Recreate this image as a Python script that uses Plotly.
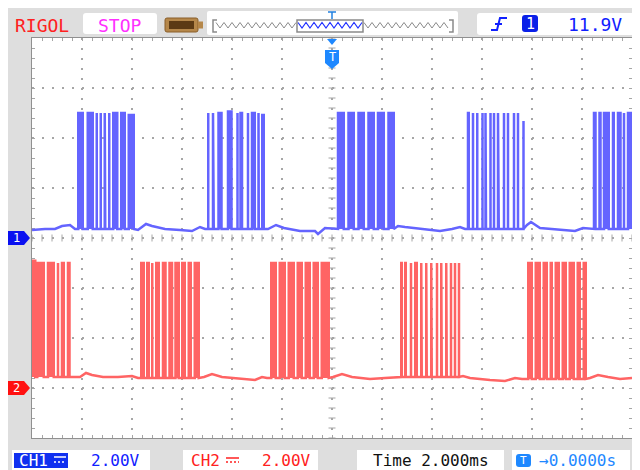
import numpy as np
import plotly.graph_objects as go

OFF = 8                      # page offset of the figure (body margin)
W, H = 640 - OFF, 470 - OFF  # figure size
PL, PT, PR, PB = 32, 38, 632, 438  # plot area in page px

# ---------------- data ----------------
time_per_div_ms = 2.0
volts_per_div = 2.0
ch1_offset_div = 0.0
ch2_offset_div = -3.0
trigger_level = "11.9V"
ch1_scale_label = "2.00V"
ch2_scale_label = "2.00V"
timebase_label = "Time 2.000ms"
trig_offset_label = "\u21920.0000s"

# baseline (low level) samples, time in ms, volts
ch1_base_t = [-12.0, -11.48, -11.08, -10.8, -10.48, -10.28,
              -7.76, -7.44, -7.2, -6.68, -6.08, -5.6, -5.28, -5.08,
              -2.56, -2.24, -1.92, -1.28, -0.68, -0.56, -0.28, 0.08,
              2.64, 2.92, 3.52, 4.32, 4.8, 5.12, 5.32,
              7.8, 7.96, 8.32, 9.12, 9.72, 10.04, 10.32]
ch1_base_v = [0.32, 0.36, 0.36, 0.48, 0.52, 0.36,
              0.32, 0.56, 0.48, 0.36, 0.32, 0.28, 0.44, 0.36,
              0.36, 0.52, 0.40, 0.28, 0.28, 0.16, 0.40, 0.36,
              0.48, 0.44, 0.36, 0.28, 0.36, 0.44, 0.36,
              0.52, 0.64, 0.40, 0.32, 0.28, 0.40, 0.36]

# pulses: rising edge, falling edge (ms) and high level (V)
ch1_rise = [-10.15, -9.77, -9.41, -9.25, -9.09, -8.91, -8.75, -8.43, -8.13,
            -4.95, -4.76, -4.54, -4.16, -3.78, -3.66, -3.36, -3.20, -2.94, -2.79,
            0.24, 0.66, 1.06, 1.46, 1.84, 2.26,
            5.44, 5.64, 5.81, 6.02, 6.14, 6.34, 6.48, 6.64, 6.88, 7.04, 7.28, 7.44, 7.66,
            10.48, 10.70, 10.88, 11.24, 11.44, 11.68, 11.84]
ch1_fall = [-9.97, -9.57, -9.41, -9.25, -9.07, -8.91, -8.59, -8.29, -7.93,
            -4.95, -4.73, -4.42, -4.02, -3.78, -3.60, -3.36, -3.09, -2.93, -2.73,
            0.47, 0.87, 1.27, 1.67, 2.07, 2.47,
            5.47, 5.64, 5.81, 6.02, 6.16, 6.34, 6.48, 6.67, 6.88, 7.04, 7.28, 7.44, 7.66,
            10.54, 10.74, 11.07, 11.27, 11.54, 11.68, 12.30]
ch1_high = [5.0, 5.0, 5.0, 5.0, 5.0, 5.0, 5.0, 5.0, 4.92,
            5.0, 5.0, 5.0, 5.06, 5.0, 5.0, 5.0, 5.0, 5.0, 4.92,
            5.0, 5.0, 5.0, 5.0, 5.0, 5.0,
            5.0, 5.0, 5.0, 5.0, 5.0, 5.0, 5.0, 5.0, 5.0, 5.0, 5.0, 5.0, 4.68,
            5.0, 5.0, 5.0, 5.0, 5.0, 5.0, 5.0]

ch2_base_t = [-10.4, -10.08, -9.84, -9.6, -9.16, -8.56, -8.0, -7.76,
              -5.12, -4.8, -4.4, -3.68, -3.08, -2.8, -2.6,
              0.04, 0.4, 0.8, 1.52, 2.12, 2.52,
              5.24, 5.52, 6.32, 6.92, 7.32, 7.6,
              10.32, 10.64, 11.04, 11.52, 12.0]
ch2_base_v = [0.44, 0.44, 0.60, 0.52, 0.44, 0.44, 0.48, 0.40,
              0.44, 0.56, 0.44, 0.36, 0.32, 0.44, 0.40,
              0.44, 0.56, 0.44, 0.36, 0.40, 0.44,
              0.48, 0.40, 0.32, 0.28, 0.40, 0.36,
              0.40, 0.52, 0.44, 0.36, 0.40]
ch2_rise = [-12.30, -11.79, -11.36, -10.96, -10.80, -10.56,
            -7.63, -7.39, -7.19, -7.03, -6.76, -6.50, -6.26, -5.99, -5.73, -5.49,
            -2.43, -2.09, -1.73, -1.37, -1.05, -0.73, -0.41,
            2.77, 2.93, 3.16, 3.33, 3.57, 3.77, 3.97, 4.20, 4.37, 4.57, 4.76, 4.92, 5.08,
            7.85, 8.15, 8.47, 8.75, 8.95, 9.23, 9.51, 9.83, 10.07]
ch2_fall = [-11.87, -11.53, -11.13, -10.96, -10.73, -10.50,
            -7.53, -7.33, -7.19, -6.93, -6.66, -6.40, -6.13, -5.89, -5.65, -5.33,
            -2.25, -1.89, -1.53, -1.21, -0.89, -0.57, -0.13,
            2.79, 2.95, 3.16, 3.39, 3.59, 3.79, 3.99, 4.20, 4.39, 4.59, 4.76, 4.92, 5.08,
            7.99, 8.31, 8.59, 8.79, 9.07, 9.35, 9.67, 9.91, 10.15]
ch2_high = [5.09, 5.0, 5.0, 5.0, 5.0, 5.0,
            5.0, 5.0, 5.0, 5.0, 5.0, 5.0, 5.0, 5.0, 5.0, 5.0,
            5.0, 5.0, 5.0, 5.0, 5.0, 5.0, 5.0,
            5.0, 5.0, 5.0, 5.0, 5.0, 5.0, 5.0, 5.0, 5.0, 5.0, 5.0, 5.0, 5.0,
            5.0, 5.0, 5.0, 5.0, 5.0, 5.0, 5.0, 5.0, 5.0]

CH1_COLOR = "#6464ff"
CH2_COLOR = "#ff6464"


def build(base_t, base_v, rise, fall, high, offset):
    events = [(t, 0, v) for t, v in zip(base_t, base_v)]
    events += [(r, 1, (f, h)) for r, f, h in zip(rise, fall, high)]
    events.sort(key=lambda e: e[0])
    xs, ys, fx, fy = [], [], [], []
    cur = base_v[0]
    for t, kind, val in events:
        if kind == 0:
            cur = val
            xs.append(t); ys.append(cur)
        else:
            f, h = val
            xs += [t, t, f, f]; ys += [cur, h, h, cur]
            fx += [t, t, f, f, None]; fy += [cur, h, h, cur, None]
    conv = lambda v: None if v is None else v / volts_per_div + offset
    return xs, [conv(v) for v in ys], fx, [conv(v) for v in fy]


fig = go.Figure()

# centre cross ticks
GRID = "#a6a6a6"
fig.add_trace(go.Scatter(x=[0] * 41, y=np.round(np.arange(-4, 4.001, 0.2), 3), mode="markers",
                         marker=dict(symbol="line-ew", size=5, line=dict(width=1, color=GRID)),
                         hoverinfo="skip", cliponaxis=True))
fig.add_trace(go.Scatter(x=np.round(np.arange(-12, 12.001, 0.4), 3), y=[0] * 61, mode="markers",
                         marker=dict(symbol="line-ns", size=5, line=dict(width=1, color=GRID)),
                         hoverinfo="skip", cliponaxis=True))

for args, col in [((ch2_base_t, ch2_base_v, ch2_rise, ch2_fall, ch2_high, ch2_offset_div), CH2_COLOR),
                  ((ch1_base_t, ch1_base_v, ch1_rise, ch1_fall, ch1_high, ch1_offset_div), CH1_COLOR)]:
    xs, ys, fx, fy = build(*args)
    fig.add_trace(go.Scatter(x=fx, y=fy, mode="lines", fill="toself", fillcolor=col,
                             line=dict(width=0, color=col), hoverinfo="skip", connectgaps=False))
    fig.add_trace(go.Scatter(x=xs, y=ys, mode="lines", line=dict(width=2.5, color=col),
                             hoverinfo="skip"))


def P(x, y):
    return (x - PL) / (PR - PL), (PB - y) / (PB - PT)


def path_from(pts, close=True):
    s = ""
    for i, (x, y) in enumerate(pts):
        px, py = P(x, y)
        s += ("M" if i == 0 else " L") + f" {px:.5f},{py:.5f}"
    return s + (" Z" if close else "")


def rrect_path(x0, y0, x1, y1, r):
    def p(x, y):
        a, b = P(x, y)
        return f"{a:.5f},{b:.5f}"
    return (f"M {p(x0 + r, y0)} L {p(x1 - r, y0)} Q {p(x1, y0)} {p(x1, y0 + r)} "
            f"L {p(x1, y1 - r)} Q {p(x1, y1)} {p(x1 - r, y1)} L {p(x0 + r, y1)} "
            f"Q {p(x0, y1)} {p(x0, y1 - r)} L {p(x0, y0 + r)} Q {p(x0, y0)} {p(x0 + r, y0)} Z")


shapes = []


def add_path(path, fill=None, line=None, lw=0, layer="below", dash=None):
    ln = dict(color=line if line else "rgba(0,0,0,0)", width=lw)
    if dash:
        ln["dash"] = dash
    shapes.append(dict(type="path", xref="paper", yref="paper", path=path,
                       fillcolor=fill if fill else "rgba(0,0,0,0)", line=ln, layer=layer))


# background panels
add_path(path_from([(7, 8), (641, 8), (641, 471), (7, 471)]), fill="#dedede")
add_path(path_from([(PL, PT), (PR, PT), (PR, PB), (PL, PB)]), fill="#ffffff")

# top bar boxes
add_path(rrect_path(83, 13, 157, 34, 3), fill="#ffffff")
add_path(rrect_path(207, 11, 458, 35, 2), fill="#ffffff")
add_path(rrect_path(477, 13, 637, 35, 3), fill="#ffffff")
# battery icon
add_path(rrect_path(165, 18, 198, 32, 2), fill="#b5874a", line="#8a5f2a", lw=1)
add_path(path_from([(198, 21.5), (203, 21.5), (203, 28.5), (198, 28.5)]), fill="#b5874a")
add_path(path_from([(169, 21), (194, 21), (194, 29), (169, 29)]), fill="#5c3a14")


# memory depth zigzag
def zig(x0, x1):
    pts = []
    x = x0
    k = 0
    while x <= x1:
        pts.append((x, 22.5 if k % 2 == 0 else 28))
        x += 4
        k += 1
    return pts


add_path(path_from(zig(216, 296), close=False), line="#8a8a8a", lw=1)
add_path(path_from(zig(364, 448), close=False), line="#8a8a8a", lw=1)
add_path(path_from(zig(298, 362), close=False), line="#2030ff", lw=1.2)
add_path(path_from([(297, 20), (363, 20), (363, 32), (297, 32)]), line="#8a8a8a", lw=1.5)
add_path(path_from([(217, 20), (213, 20), (213, 32), (217, 32)], close=False), line="#8a8a8a", lw=1.5)
add_path(path_from([(449, 20), (453, 20), (453, 32), (449, 32)], close=False), line="#8a8a8a", lw=1.5)
add_path(path_from([(328, 12), (336, 12)], close=False), line="#2080e0", lw=1.5)
add_path(path_from([(332, 12), (332, 19)], close=False), line="#2080e0", lw=1.5)

# trigger box symbols
add_path(path_from([(491, 30), (497, 30), (500, 18), (507, 18)], close=False), line="#1020ff", lw=2)
add_path(path_from([(495, 24), (502, 24)], close=False), line="#1020ff", lw=2)
add_path(rrect_path(522, 15, 538, 32, 3), fill="#0a20e8")

# bottom boxes
add_path(path_from([(12, 450), (150, 450), (150, 471), (12, 471)]), fill="#ffffff")
add_path(path_from([(183, 450), (318, 450), (318, 471), (183, 471)]), fill="#ffffff")
add_path(path_from([(357, 450), (504, 450), (504, 471), (357, 471)]), fill="#ffffff")
add_path(path_from([(512, 450), (630, 450), (630, 471), (512, 471)]), fill="#ffffff")
add_path(path_from([(14, 453), (68, 453), (68, 468), (14, 468)]), fill="#1030f0")
# DC coupling symbols
add_path(path_from([(54, 457), (66, 457)], close=False), line="#ffffff", lw=1.5)
add_path(path_from([(54, 462), (66, 462)], close=False), line="#ffffff", lw=1.5, dash="2px,2px")
add_path(path_from([(226, 458), (239, 458)], close=False), line="#ff2020", lw=1.5)
add_path(path_from([(226, 462), (239, 462)], close=False), line="#ff2020", lw=1.5, dash="2px,2px")
# trigger offset badge
add_path(rrect_path(516, 454, 531, 467, 3), fill="#1e88ff")

# channel ground markers
add_path(path_from([(7, 231), (24, 231), (30, 238), (24, 245), (7, 245)]), fill="#0a10f0", layer="above")
add_path(path_from([(7, 381), (24, 381), (30, 388), (24, 395), (7, 395)]), fill="#ff1010", layer="above")
# trigger position marker
add_path(path_from([(327, 39), (337, 39), (332, 45)]), fill="#1e88ff", layer="above")
add_path(path_from([(325, 50), (339, 50), (339, 63), (332, 69), (325, 63)]), fill="#1e88ff", layer="above")

annotations = []


def txt(x, y, s, color, size=19, xanchor="center"):
    ax, ay = P(x, y)
    annotations.append(dict(x=ax, y=ay, xref="paper", yref="paper", text=s, showarrow=False,
                            xanchor=xanchor, yanchor="middle", borderpad=0,
                            font=dict(family="DejaVu Sans Mono", size=size, color=color)))


txt(42, 25, "RIGOL", "#ff2020", size=18)
txt(120, 25, "STOP", "#ff30ff", size=18)
txt(530, 24, "1", "#ffffff", size=15)
txt(595, 24, trigger_level, "#1020ff", size=18)
txt(33, 460, "CH1", "#ffffff", size=16)
txt(115, 460, ch1_scale_label, "#1020ff", size=16)
txt(205, 460, "CH2", "#ff2020", size=16)
txt(286, 460, ch2_scale_label, "#ff2020", size=16)
txt(431, 460, timebase_label, "#101010", size=16)
txt(523, 460, "T", "#ffffff", size=11)
txt(577, 460, trig_offset_label, "#1e88ff", size=16)
txt(16, 238, "1", "#ffffff", size=12)
txt(16, 388, "2", "#ffffff", size=12)
txt(332, 57, "T", "#ffffff", size=12)

axis_common = dict(showticklabels=False, ticks="inside", ticklen=3, tickcolor=GRID, tickwidth=1,
                   showline=True, linecolor="#909090", linewidth=1, mirror="allticks",
                   showgrid=True, gridcolor=GRID, gridwidth=1.5, griddash="2px,8px",
                   zeroline=False, fixedrange=True, layer="below traces")
fig.update_xaxes(range=[-12, 12], tick0=0, dtick=time_per_div_ms,
                 minor=dict(dtick=0.4, ticks="inside", ticklen=3, tickcolor=GRID, showgrid=False),
                 **axis_common)
fig.update_yaxes(range=[-4, 4], tick0=0, dtick=1,
                 minor=dict(dtick=0.2, ticks="inside", ticklen=3, tickcolor=GRID, showgrid=False),
                 **axis_common)

fig.update_layout(width=W, height=H, autosize=False,
                  margin=dict(l=PL - OFF, r=640 - PR, t=PT - OFF, b=470 - PB, pad=0),
                  paper_bgcolor="#ffffff", plot_bgcolor="#ffffff",
                  showlegend=False, shapes=shapes, annotations=annotations)

fig.write_html("out.html")
